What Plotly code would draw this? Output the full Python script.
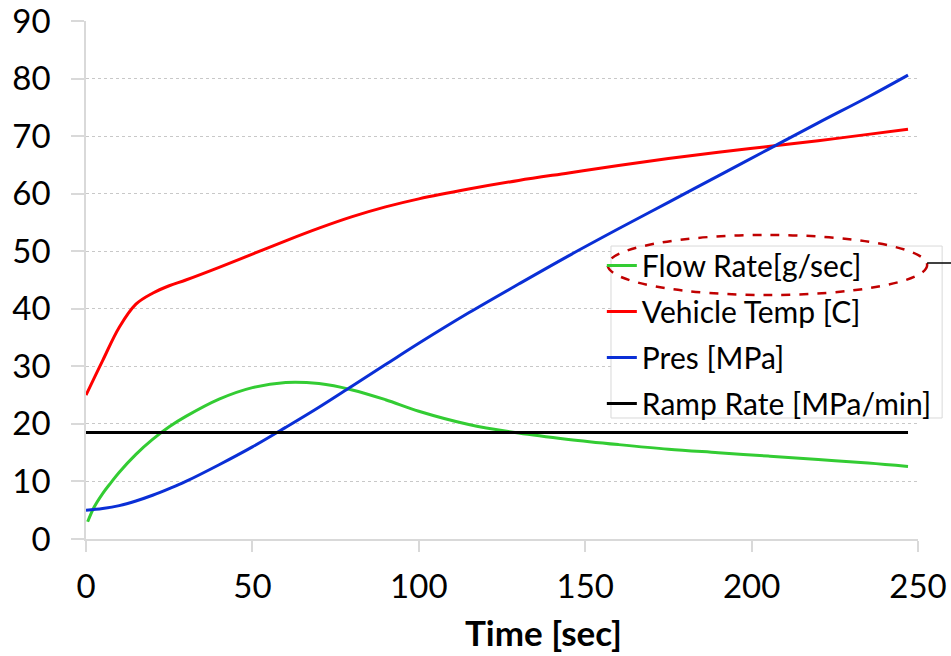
import plotly.graph_objects as go

# ---- data ----
time_s = [0, 5, 10, 15, 20, 25, 30, 40, 50, 60, 70, 80, 90, 100, 115, 130,
          145, 160, 175, 190, 205, 220, 235, 247]
vehicle_temp = [25.0, 31.0, 36.8, 40.8, 42.7, 44.0, 45.0, 47.2, 49.5, 51.8, 54.0,
                56.0, 57.7, 59.1, 60.8, 62.3, 63.6, 64.9, 66.1, 67.2, 68.2, 69.2,
                70.3, 71.2]
pres = [5.0, 5.3, 5.8, 6.6, 7.6, 8.75, 10.0, 12.9, 16.0, 19.4, 22.9, 26.6, 30.3,
        34.0, 39.3, 44.3, 49.2, 53.9, 58.5, 63.1, 67.7, 72.3, 76.8, 80.6]
flow_time = [0.5, 2.5, 5, 7.5, 10, 15, 20, 25, 30, 40, 50, 60, 70, 80, 90, 100,
             115, 130, 145, 160, 175, 190, 205, 220, 235, 247]
flow_rate = [3.0, 5.6, 7.9, 9.8, 11.6, 14.7, 17.3, 19.5, 21.3, 24.3, 26.3, 27.2,
             27.0, 25.9, 24.2, 22.2, 19.9, 18.4, 17.3, 16.4, 15.6, 15.0, 14.4, 13.8,
             13.2, 12.6]
ramp_time = [0, 247]
ramp_rate = [18.5, 18.5]

series_names = ["Flow Rate[g/sec]", "Vehicle Temp [C]", "Pres [MPa]",
                "Ramp Rate [MPa/min]"]
x_ticks = [0, 50, 100, 150, 200, 250]
y_ticks = [0, 10, 20, 30, 40, 50, 60, 70, 80, 90]

FONT = "Lato"

fig = go.Figure()
fig.add_trace(go.Scatter(x=flow_time, y=flow_rate, mode="lines", name=series_names[0],
                         legendgroup="a", line=dict(color="#33CC33", width=3, shape="spline")))
fig.add_trace(go.Scatter(x=time_s, y=vehicle_temp, mode="lines", name=series_names[1],
                         legendgroup="b", line=dict(color="#FF0000", width=3, shape="spline")))
fig.add_trace(go.Scatter(x=time_s, y=pres, mode="lines", name=series_names[2],
                         legendgroup="c", line=dict(color="#0A2FD6", width=3, shape="spline")))
fig.add_trace(go.Scatter(x=ramp_time, y=ramp_rate, mode="lines", name=series_names[3],
                         legendgroup="d", line=dict(color="#000000", width=3)))

fig.update_layout(
    width=951, height=656, autosize=False,
    margin=dict(l=86, r=33, t=21, b=117, autoexpand=False),
    paper_bgcolor="white", plot_bgcolor="white",
    font=dict(family=FONT, color="#000000", size=33),
    showlegend=True,
    legend=dict(x=0.620, y=0.578, xanchor="left", yanchor="top",
                bgcolor="rgba(0,0,0,0)", borderwidth=0,
                font=dict(family=FONT, size=30, color="#000000"),
                tracegroupgap=4, itemwidth=30),
    xaxis=dict(range=[0, 250], tickvals=x_ticks, showgrid=False, zeroline=False,
               automargin=False, ticklabeloverflow="allow",
               showline=True, linecolor="#D9D9D9", linewidth=1.5,
               ticks="outside", ticklen=11, tickcolor="#D9D9D9", tickwidth=1.5,
               ticklabelstandoff=7,
               tickfont=dict(family=FONT, size=33)),
    yaxis=dict(range=[0, 90], tickvals=y_ticks, showgrid=True, gridcolor="#C8C8C8",
               griddash="dot", gridwidth=1, zeroline=False, automargin=False,
               ticklabeloverflow="allow",
               showline=True, linecolor="#D9D9D9", linewidth=1.5,
               ticks="outside", ticklen=13, tickcolor="#D9D9D9", tickwidth=1.5,
               ticklabelstandoff=14,
               tickfont=dict(family=FONT, size=33)),
    annotations=[dict(text="<b>Time [sec]</b>", xref="paper", yref="paper",
                      x=0.55, y=-0.18, xanchor="center", yanchor="middle",
                      showarrow=False, font=dict(family=FONT, size=35, color="#000000"))],
    shapes=[
        dict(type="rect", xref="paper", yref="paper", x0=0.631, x1=1.029,
             y0=0.2336, y1=0.5656, line=dict(color="#D9D9D9", width=1),
             fillcolor="white", layer="above"),
        dict(type="circle", xref="paper", yref="paper", x0=0.627, x1=1.011,
             y0=0.471, y1=0.587, line=dict(color="#C00000", width=2.5, dash="dash"),
             fillcolor="rgba(0,0,0,0)", layer="above"),
        dict(type="line", xref="paper", yref="paper", x0=1.011, x1=1.05,
             y0=0.533, y1=0.533, line=dict(color="#000000", width=1.5)),
    ],
)

fig.write_html("out.html",
               config={"displayModeBar": False},
               post_script="document.body.style.margin='0';"
                           "document.body.style.overflow='hidden';")
